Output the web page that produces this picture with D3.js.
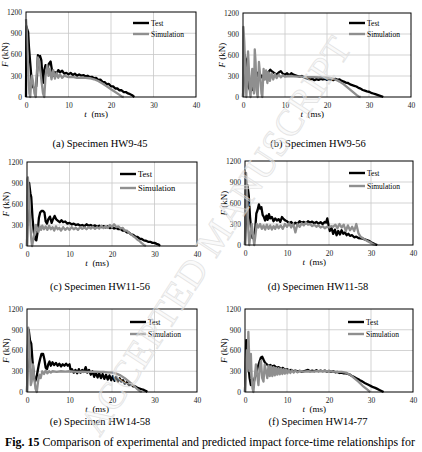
<!DOCTYPE html>
<html>
<head>
<meta charset="utf-8">
<script src="https://cdn.jsdelivr.net/npm/d3@7"></script>
<title>Fig. 15 impact force-time</title>
<style>
  body { margin: 0; background: #fff; }
  svg { display: block; font-family: "Liberation Serif", "Times New Roman", serif; }
  .grid line { stroke: #c8c8c8; stroke-width: 0.8; }
  .frame { fill: none; stroke: #000; stroke-width: 1; }
  .tick text { font-size: 7.5px; fill: #222; }
  .test { fill: none; stroke: #000; stroke-width: 2.3; stroke-linejoin: round; }
  .sim  { fill: none; stroke: #8f8f8f; stroke-width: 2.3; stroke-linejoin: round; }
</style>
</head>
<body>
<svg id="fig" width="422" height="452"></svg>
<script>

var timeTicks  = [0, 10, 20, 30, 40];
var forceTicks = [0, 300, 600, 900, 1200];
var seriesNames = ["Test", "Simulation"];

// (a) HW9-45
var testA = [[0,0],[0.1,1000],[0.3,950],[0.5,920],[0.7,700],[0.9,550],[1.1,400],[1.3,250],[1.5,160],[1.8,130],[2.1,110],[2.4,150],[2.6,300],[2.8,590],[3.0,560],[3.3,580],[3.6,520],[3.8,350],[4.0,200],[4.3,380],[4.6,450],[5.0,400],[5.4,470],[5.8,500],[6.1,380],[6.5,300],[6.8,350],[7.2,330],[7.6,380],[8.0,350],[8.5,370],[9.0,330],[9.5,340],[10,320],[10.5,340],[11,310],[11.5,330],[12,300],[12.5,320],[13,300],[13.5,310],[14,290],[14.5,300],[15,280],[15.5,285],[16,265],[16.5,270],[17,240],[17.5,245],[18,215],[18.5,210],[19,180],[19.5,185],[20,150],[20.5,150],[21,120],[21.5,120],[22,95],[22.5,95],[23,70],[23.5,70],[24,50],[24.5,40],[25,25],[25.3,10],[25.5,0]];
var simA  = [[0,1100],[0.2,900],[0.5,400],[0.8,50],[1.0,0],[1.2,200],[1.4,300],[1.7,200],[2.0,50],[2.3,0],[2.5,300],[2.8,560],[3.1,500],[3.4,350],[3.7,200],[4.0,50],[4.3,0],[4.6,300],[5.0,450],[5.3,300],[5.6,400],[6.0,250],[6.4,380],[6.8,260],[7.2,340],[7.6,270],[8,320],[8.5,270],[9,300],[10,280],[11,285],[12,270],[13,275],[14,270],[15,265],[16,250],[17,225],[18,190],[19,150],[20,110],[21,70],[22,30],[22.6,5],[23,0]];

// (b) HW9-56
var testB = [[0,0],[0.2,400],[0.4,600],[0.6,550],[0.9,500],[1.1,300],[1.3,150],[1.5,120],[1.8,80],[2.0,150],[2.2,100],[2.4,180],[2.7,250],[3.0,300],[3.3,350],[3.6,300],[4.0,330],[4.5,280],[5.0,320],[5.5,300],[6.0,350],[6.5,390],[7.0,360],[7.5,340],[8,320],[8.5,350],[9,370],[9.5,330],[10,320],[10.5,340],[11,310],[11.5,340],[12,320],[12.5,310],[13,300],[13.5,290],[14,300],[14.5,280],[15,270],[15.5,260],[16,250],[16.5,260],[17,240],[17.5,255],[18,245],[18.5,260],[19,250],[19.5,260],[20,245],[20.5,255],[21,250],[21.5,240],[22,260],[22.5,245],[23,250],[23.5,230],[24,220],[24.5,205],[25,200],[25.5,180],[26,170],[26.5,160],[27,150],[27.5,130],[28,120],[28.5,100],[29,90],[29.5,80],[30,75],[30.5,60],[31,50],[31.5,40],[32,30],[32.5,20],[33,10],[33.4,0]];
var simB  = [[0,0],[0.1,1000],[0.3,800],[0.6,300],[0.8,0],[1.0,300],[1.2,650],[1.4,400],[1.6,100],[1.8,0],[2.0,250],[2.2,400],[2.4,200],[2.6,50],[2.8,680],[3.0,500],[3.2,100],[3.5,0],[3.8,500],[4.1,300],[4.4,50],[4.6,0],[4.9,400],[5.2,250],[5.5,380],[5.8,200],[6.1,350],[6.4,230],[6.8,340],[7.2,250],[7.6,330],[8,270],[8.5,320],[9,280],[9.5,310],[10,290],[11,300],[12,295],[13,290],[14,290],[15,285],[16,285],[17,285],[18,280],[19,280],[20,275],[21,270],[22,250],[23,220],[24,180],[25,130],[26,80],[27,30],[27.6,5],[28,0]];

// (c) HW11-56
var testC = [[0,0],[0.2,700],[0.5,900],[0.8,750],[1.0,700],[1.3,400],[1.6,200],[1.9,100],[2.2,80],[2.5,200],[2.8,400],[3.1,480],[3.4,500],[3.8,500],[4.1,480],[4.4,350],[4.7,320],[5.0,380],[5.4,420],[5.8,330],[6.1,380],[6.5,430],[6.9,380],[7.3,360],[7.7,340],[8.1,370],[8.5,340],[9,350],[9.5,320],[10,330],[10.5,310],[11,320],[11.5,300],[12,310],[12.5,290],[13,300],[13.5,285],[14,310],[14.5,290],[15,300],[15.5,280],[16,295],[16.5,275],[17,290],[17.5,270],[18,285],[18.5,265],[19,280],[19.5,255],[20,270],[20.5,250],[21,260],[21.5,240],[22,245],[22.5,220],[23,220],[23.5,195],[24,190],[24.5,165],[25,160],[25.5,135],[26,130],[26.5,105],[27,100],[27.5,80],[28,75],[28.5,60],[29,60],[29.5,45],[30,45],[30.5,30],[31,20],[31.3,0]];
var simC  = [[0,0],[0.1,950],[0.2,980],[0.4,800],[0.7,400],[1.0,100],[1.2,0],[1.5,100],[1.8,200],[2.1,300],[2.4,250],[2.7,200],[3.0,280],[3.3,230],[3.6,290],[4,240],[4.4,280],[4.8,230],[5.2,290],[5.6,240],[6,270],[6.4,220],[6.8,280],[7.2,240],[7.6,260],[8,220],[8.5,270],[9,230],[9.5,260],[10,230],[10.5,270],[11,240],[11.5,260],[12,230],[12.5,270],[13,245],[13.5,265],[14,240],[14.5,270],[15,250],[15.5,275],[16,245],[16.5,270],[17,250],[17.5,290],[18,255],[18.5,280],[19,260],[19.5,300],[20,270],[20.5,310],[21,270],[21.5,280],[22,250],[22.5,260],[23,220],[23.5,220],[24,190],[24.5,170],[25,140],[25.5,120],[26,90],[26.5,70],[27,40],[27.5,15],[28,0]];

// (d) HW11-58
var testD = [[0,0],[0.3,600],[0.6,850],[0.9,700],[1.2,400],[1.5,200],[1.8,100],[2.1,130],[2.4,200],[2.7,450],[3.0,500],[3.3,580],[3.6,520],[3.9,540],[4.2,430],[4.5,400],[4.8,350],[5.1,420],[5.4,360],[5.7,440],[6.0,380],[6.4,400],[6.8,340],[7.2,380],[7.6,350],[8,370],[8.4,330],[8.8,400],[9.2,370],[9.6,350],[10,340],[10.5,310],[11,330],[11.5,290],[12,320],[12.5,300],[13,340],[13.5,320],[14,330],[14.5,310],[15,340],[15.5,320],[16,335],[16.5,310],[17,330],[17.5,305],[18,325],[18.5,300],[19,330],[19.3,320],[19.6,380],[19.9,280],[20.2,200],[20.6,240],[21,160],[21.4,220],[21.8,140],[22.2,200],[22.6,150],[23,210],[23.4,160],[23.8,180],[24.2,140],[24.6,160],[25,130],[25.5,140],[26,110],[26.5,120],[27,100],[27.5,95],[28,90],[28.5,80],[29,70],[29.5,60],[30,40],[30.5,25],[31,10],[31.5,0]];
var simD  = [[0,0],[0.1,700],[0.25,1030],[0.5,700],[0.8,200],[1.0,0],[1.3,150],[1.6,300],[1.9,150],[2.2,0],[2.5,150],[2.8,300],[3.2,250],[3.6,300],[4,230],[4.4,280],[4.8,220],[5.2,290],[5.6,230],[6,280],[6.4,220],[6.8,270],[7.2,230],[7.6,290],[8,240],[8.5,280],[9,230],[9.5,300],[10,260],[10.5,310],[11,250],[11.5,300],[12,180],[12.5,300],[13,260],[13.5,310],[14,280],[14.5,320],[15,290],[15.5,300],[16,270],[16.5,290],[17,260],[17.5,280],[18,250],[18.5,270],[19,240],[19.5,260],[20,250],[20.5,270],[21,260],[21.5,290],[22,240],[22.5,300],[23,250],[23.5,290],[24,200],[24.5,280],[25,210],[25.5,260],[26,200],[26.5,300],[27,170],[27.5,120],[28,100],[28.5,80],[29,60],[29.5,45],[30,30],[30.5,10],[31,0]];

// (e) HW14-58
var testE = [[0,0],[0.2,600],[0.4,900],[0.7,750],[1.0,700],[1.3,450],[1.6,250],[1.9,150],[2.2,200],[2.5,300],[2.8,400],[3.1,480],[3.4,550],[3.8,550],[4.1,470],[4.4,350],[4.7,330],[5.0,400],[5.3,440],[5.6,380],[6,430],[6.4,390],[6.8,420],[7.2,380],[7.6,410],[8,370],[8.4,400],[8.8,380],[9.2,410],[9.6,380],[10,400],[10.3,300],[10.6,330],[11,280],[11.4,320],[11.8,270],[12.2,330],[12.6,280],[13,320],[13.4,290],[13.8,360],[14.2,280],[14.6,320],[15,250],[15.4,300],[15.8,220],[16.2,280],[16.6,210],[17,270],[17.4,200],[17.8,260],[18.2,190],[18.6,250],[19,180],[19.4,240],[19.8,170],[20.2,230],[20.6,160],[21,220],[21.4,150],[21.8,200],[22.2,150],[22.6,170],[23,120],[23.5,140],[24,100],[24.5,110],[25,80],[25.5,80],[26,60],[26.5,50],[27,40],[27.5,30],[28,15],[28.3,0]];
var simE  = [[0,0],[0.15,600],[0.3,930],[0.6,600],[0.9,100],[1.1,150],[1.4,400],[1.7,200],[2.0,50],[2.3,0],[2.6,150],[2.9,250],[3.2,200],[3.6,300],[4,260],[4.4,310],[4.8,270],[5.2,300],[5.6,280],[6,300],[7,290],[8,300],[9,295],[10,300],[11,295],[12,290],[13,295],[14,290],[15,290],[16,295],[17,290],[18,290],[19,285],[20,280],[21,265],[22,240],[23,200],[24,150],[25,100],[25.8,50],[26.5,15],[27,0]];

// (f) HW14-77
var testF = [[0,0],[0.15,400],[0.3,750],[0.5,650],[0.8,400],[1.1,200],[1.4,100],[1.7,150],[2.0,120],[2.3,200],[2.6,250],[3.0,350],[3.4,430],[3.8,500],[4.1,510],[4.4,470],[4.8,420],[5.2,400],[5.6,380],[6,390],[6.5,370],[7,380],[7.5,350],[8,360],[8.5,340],[9,350],[9.5,320],[10,330],[10.5,310],[11,320],[11.5,300],[12,310],[12.5,295],[13,305],[13.5,295],[14,300],[14.5,310],[15,320],[15.5,300],[16,310],[16.5,300],[17,315],[17.5,300],[18,310],[18.5,300],[19,310],[19.5,295],[20,305],[20.5,290],[21,300],[21.5,285],[22,290],[22.5,275],[23,280],[23.5,270],[24,270],[24.5,260],[25,250],[25.5,230],[26,215],[26.5,200],[27,185],[27.5,165],[28,150],[28.5,130],[29,115],[29.5,100],[30,85],[30.5,70],[31,60],[31.5,45],[32,30],[32.5,15],[33,0]];
var simF  = [[0,0],[0.2,400],[0.4,600],[0.6,300],[0.8,870],[1.0,500],[1.2,300],[1.4,550],[1.6,200],[1.8,50],[2.0,0],[2.3,200],[2.6,400],[2.9,250],[3.2,100],[3.5,350],[3.8,450],[4.1,200],[4.4,150],[4.7,400],[5.0,300],[5.3,200],[5.6,380],[5.9,230],[6.2,370],[6.5,230],[6.8,360],[7.1,240],[7.4,350],[7.7,250],[8.0,345],[8.3,255],[8.6,340],[8.9,260],[9.2,330],[9.5,265],[9.8,325],[10.1,270],[10.4,320],[10.8,275],[11.2,315],[11.6,280],[12,310],[12.5,285],[13,305],[14,295],[15,300],[16,295],[17,300],[18,300],[19,300],[20,300],[21,295],[22,290],[23,290],[24,280],[25,250],[26,200],[27,150],[28,90],[29,40],[29.5,15],[29.8,0]];

var captions = ["(a) Specimen HW9-45", "(b) Specimen HW9-56", "(c) Specimen HW11-56",
                "(d) Specimen HW11-58", "(e) Specimen HW14-58", "(f) Specimen HW14-77"];

// page layout of the six small charts
var panels = [
  {test: testA, sim: simA, left: 26,  right: 196, top: 12,  bottom: 97,  capY: 147, legX: 107, legY: 11, legGap: 11, legFont: 7.5},
  {test: testB, sim: simB, left: 243, right: 411, top: 13,  bottom: 97,  capY: 147, legX: 106, legY: 10, legGap: 11, legFont: 7.5},
  {test: testC, sim: simC, left: 27,  right: 197, top: 162, bottom: 246, capY: 290, legX: 93,  legY: 12, legGap: 14, legFont: 8.5},
  {test: testD, sim: simD, left: 245, right: 413, top: 161, bottom: 245, capY: 290, legX: 104, legY: 12, legGap: 13, legFont: 7.5},
  {test: testE, sim: simE, left: 27,  right: 197, top: 309, bottom: 392, capY: 425, legX: 103, legY: 13, legGap: 12, legFont: 7.5},
  {test: testF, sim: simF, left: 245, right: 413, top: 309, bottom: 392, capY: 425, legX: 103, legY: 13, legGap: 12, legFont: 7.5}
];

var svg = d3.select("#fig");
svg.append("rect").attr("width", 422).attr("height", 452).attr("fill", "#fff");

panels.forEach(function (p, i) {
    var x = d3.scaleLinear().domain([0, 40]).range([p.left, p.right]);
    var y = d3.scaleLinear().domain([0, 1200]).range([p.bottom, p.top]);
    var g = svg.append("g");

    var grid = g.append("g").attr("class", "grid");
    grid.selectAll("line.v")
        .data(timeTicks.slice(1, -1))
        .enter().append("line")
        .attr("x1", function (d) { return x(d); }).attr("x2", function (d) { return x(d); })
        .attr("y1", p.top).attr("y2", p.bottom);
    grid.selectAll("line.h")
        .data(forceTicks.slice(1, -1))
        .enter().append("line")
        .attr("y1", function (d) { return y(d); }).attr("y2", function (d) { return y(d); })
        .attr("x1", p.left).attr("x2", p.right);

    // axes (labels only, the frame is drawn separately)
    var xAxis = g.append("g")
        .attr("transform", "translate(0," + p.bottom + ")")
        .call(d3.axisBottom(x).tickValues(timeTicks).tickFormat(d3.format("d")).tickSize(0).tickPadding(6));
    var yAxis = g.append("g")
        .attr("transform", "translate(" + p.left + ",0)")
        .call(d3.axisLeft(y).tickValues(forceTicks).tickFormat(d3.format("d")).tickSize(0).tickPadding(4));
    [xAxis, yAxis].forEach(function (a) {
        a.attr("font-family", null).attr("font-size", null);
        a.select(".domain").remove();
    });

    var line = d3.line()
        .x(function (d) { return x(d[0]); })
        .y(function (d) { return y(d[1]); });

    g.append("path").attr("class", "test").attr("d", line(p.test));
    g.append("path").attr("class", "sim").attr("d", line(p.sim));

    g.append("rect").attr("class", "frame")
        .attr("x", p.left).attr("y", p.top)
        .attr("width", p.right - p.left).attr("height", p.bottom - p.top);

    // legend
    seriesNames.forEach(function (name, k) {
        var ly = p.top + p.legY + k * p.legGap;
        var lx = p.left + p.legX;
        g.append("line")
            .attr("x1", lx).attr("x2", lx + 16)
            .attr("y1", ly).attr("y2", ly)
            .attr("stroke", k === 0 ? "#000" : "#8f8f8f")
            .attr("stroke-width", 2.4);
        g.append("text")
            .attr("x", lx + 18).attr("y", ly + 2.6)
            .attr("font-size", p.legFont)
            .text(name);
    });

    // axis titles
    var fy = (p.top + p.bottom) / 2;
    var ft = g.append("text")
        .attr("transform", "translate(" + (p.left - 18) + "," + fy + ") rotate(-90)")
        .attr("text-anchor", "middle")
        .attr("font-size", 9);
    ft.append("tspan").attr("font-style", "italic").text("F");
    ft.append("tspan").text(" (kN)");

    var tt = g.append("text")
        .attr("x", x(16.5)).attr("y", p.bottom + 19.5)
        .attr("text-anchor", "middle")
        .attr("font-size", 9);
    tt.append("tspan").attr("font-style", "italic").text("t");
    tt.append("tspan").text("\u00a0 (ms)");

    // sub caption
    g.append("text")
        .attr("x", i % 2 === 0 ? 100 : 318).attr("y", p.capY)
        .attr("text-anchor", "middle")
        .attr("font-size", 10.5)
        .text(captions[i]);
});

var fig = svg.append("text").attr("x", 5).attr("y", 446).attr("font-size", 12)
    .attr("textLength", 410).attr("lengthAdjust", "spacingAndGlyphs");
fig.append("tspan").attr("font-weight", "bold").text("Fig. 15");
fig.append("tspan").text(" Comparison of experimental and predicted impact force-time relationships for");

// watermark
svg.append("text")
    .attr("transform", "translate(219,238) rotate(-57)")
    .attr("text-anchor", "middle")
    .attr("dominant-baseline", "middle")
    .attr("font-size", 38)
    .attr("textLength", 465)
    .attr("lengthAdjust", "spacing")
    .attr("fill", "#f2f2f2")
    .attr("fill-opacity", 0.4)
    .attr("stroke", "#dadada")
    .attr("stroke-opacity", 0.7)
    .attr("stroke-width", 0.9)
    .text("ACCEPTED MANUSCRIPT");

</script>
</body>
</html>
